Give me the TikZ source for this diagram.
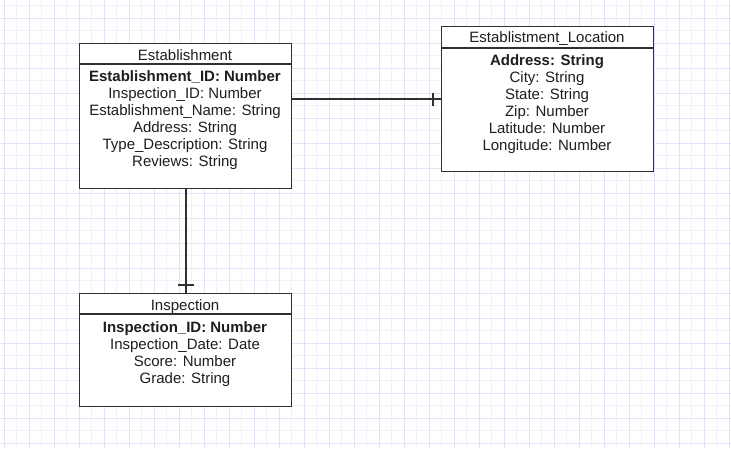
\documentclass[tikz,border=0pt]{standalone}
\usepackage{fontspec}
\setmainfont{Liberation Sans}
\definecolor{gridmaj}{HTML}{E3E3F7}
\definecolor{gridmin}{HTML}{F0F0FB}
\definecolor{edgec}{HTML}{303030}
\definecolor{txtc}{HTML}{1E1E1E}
\begin{document}
\begin{tikzpicture}[x=1pt,y=-1pt,
  entity/.style={draw=edgec,line width=1.3pt,fill=white,rectangle,inner sep=0pt,anchor=north west,minimum width=212pt},
  title/.style={inner sep=0pt,anchor=base,text=txtc,font=\fontsize{15}{17}\selectfont},
  fields/.style={inner sep=0pt,anchor=north,align=center,text=txtc,font=\fontsize{15}{17}\selectfont},
  rel/.style={draw=edgec,line width=2pt},
  majline/.style={draw=gridmaj,line width=0.9pt},
  minline/.style={draw=gridmin,line width=0.8pt}]
\useasboundingbox (0,0) rectangle (731,448);
\fill[white] (0,0) rectangle (731,448);
% grid
\foreach \k in {0,...,29} {\draw[minline] ({16.8+25*\k},0) -- ({16.8+25*\k},448);}
\foreach \k in {0,...,18} {\draw[minline] (0,{5.8+25*\k}) -- (731,{5.8+25*\k});}
\foreach \k in {0,...,29} {\draw[majline] ({4.3+25*\k},0) -- ({4.3+25*\k},448);}
\foreach \k in {0,...,17} {\draw[majline] (0,{18.3+25*\k}) -- (731,{18.3+25*\k});}

% Establishment
\node[entity,minimum height=145pt] (est) at (79,43) {};
\draw[draw=edgec,line width=1.3pt] (est.north west) ++(0,21) -- ++(212,0);
\node[title] (estT) at (185,60) {Establishment};
\node[fields] (estF) at (185,69.7) {\rule{0pt}{12pt}\textbf{Establishment\_ID: Number}\\Inspection\_ID: Number\\Establishment\_Name: String\\Address: String\\Type\_Description: String\\Reviews: String};

% Establistment_Location
\node[entity,minimum height=145pt] (loc) at (441,26) {};
\draw[draw=edgec,line width=1.3pt] (loc.north west) ++(0,22) -- ++(212,0);
\node[title] (locT) at (547,42.7) {Establistment\_Location};
\node[fields] (locF) at (547,53.7) {\rule{0pt}{12pt}\textbf{Address: String}\\City: String\\State: String\\Zip: Number\\Latitude: Number\\Longitude: Number};

% Inspection
\node[entity,minimum height=113pt] (insp) at (79,293) {};
\draw[draw=edgec,line width=1.3pt] (insp.north west) ++(0,21) -- ++(212,0);
\node[title] (inspT) at (185,310) {Inspection};
\node[fields] (inspF) at (185,320.3) {\rule{0pt}{12pt}\textbf{Inspection\_ID: Number}\\Inspection\_Date: Date\\Score: Number\\Grade: String};

% relationships
\draw[rel] (est.east |- loc.west) -- (loc.west);
\draw[rel] ([xshift=-8pt,yshift=-6.5pt]loc.west) -- ([xshift=-8pt,yshift=6.5pt]loc.west);
\draw[rel] (est.south) -- (insp.north);
\draw[rel] ([xshift=-8pt,yshift=8pt]insp.north) -- ([xshift=8pt,yshift=8pt]insp.north);
\end{tikzpicture}
\end{document}
